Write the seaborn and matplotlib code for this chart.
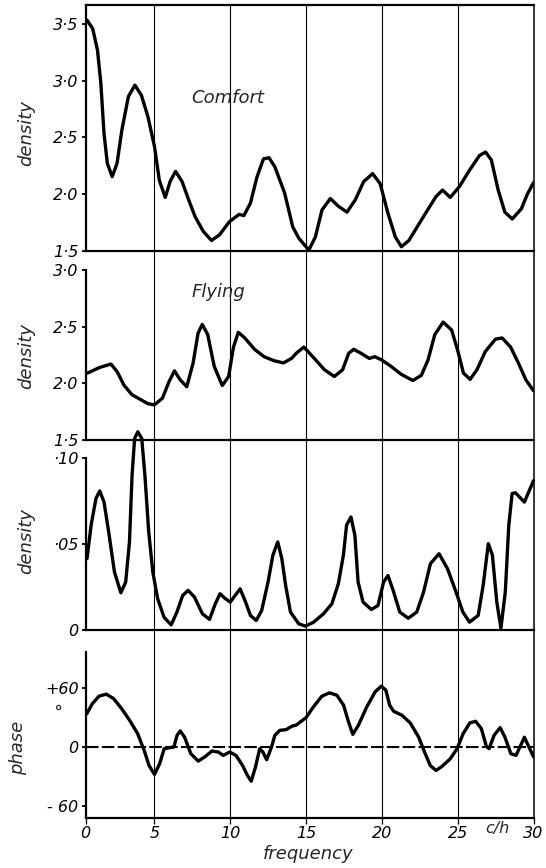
import matplotlib
matplotlib.use("Agg")
import matplotlib.pyplot as plt
import seaborn as sns
import pandas as pd

# ---------------- data ----------------
comfort_x = [0.54, 0.92, 1.24, 1.46, 1.67, 1.89, 2.21, 2.53, 2.85, 3.28, 3.71, 4.14, 4.57, 5.0, 5.32,
             5.71, 6.03, 6.39, 6.82, 7.25, 7.68, 8.22, 8.76, 9.29, 9.94, 10.58, 10.9, 11.33, 11.76,
             12.19, 12.55, 12.94, 13.58, 14.12, 14.52, 15.18, 15.61, 16.05, 16.6, 17.15, 17.7, 18.25,
             18.8, 19.39, 19.89, 20.4, 20.89, 21.29, 21.78, 22.67, 23.56, 24.0, 24.51, 25.11, 25.78,
             26.44, 26.84, 27.22, 27.67, 28.11, 28.6, 29.2, 29.6, 30.0]
comfort_y = [3.535, 3.46, 3.27, 2.98, 2.535, 2.27, 2.153, 2.27, 2.565, 2.86, 2.96, 2.87, 2.68, 2.42, 2.12,
             1.97, 2.11, 2.20, 2.11, 1.95, 1.80, 1.67, 1.59, 1.64, 1.756, 1.82, 1.81, 1.92, 2.15,
             2.31, 2.32, 2.24, 2.01, 1.71, 1.61, 1.506, 1.62, 1.86, 1.96, 1.89, 1.84, 1.95,
             2.11, 2.18, 2.09, 1.83, 1.62, 1.535, 1.59, 1.785, 1.976, 2.035, 1.97, 2.065, 2.21,
             2.34, 2.37, 2.30, 2.035, 1.84, 1.78, 1.87, 2.0, 2.1]

flying_x = [0.55, 0.74, 1.38, 2.13, 2.55, 2.98, 3.51, 4.04, 4.57, 5.0, 5.53, 5.96, 6.32, 6.70, 7.13,
            7.55, 7.87, 8.15, 8.51, 8.94, 9.47, 9.89, 10.21, 10.53, 10.96, 11.6, 12.23, 12.87, 13.51,
            14.04, 14.35, 14.85, 15.44, 16.21, 16.86, 17.41, 17.81, 18.14, 18.62, 19.17, 19.54, 20.0,
            20.6, 21.27, 22.04, 22.6, 23.04, 23.49, 24.04, 24.6, 25.0, 25.38, 25.82, 26.27, 26.82,
            27.49, 27.93, 28.49, 29.0, 29.5, 30.0]
flying_y = [2.09, 2.10, 2.14, 2.17, 2.10, 1.985, 1.90, 1.86, 1.82, 1.81, 1.87, 2.015, 2.11, 2.03, 1.97,
            2.18, 2.44, 2.52, 2.43, 2.15, 1.98, 2.06, 2.32, 2.45, 2.40, 2.30, 2.235, 2.20, 2.18,
            2.22, 2.265, 2.32, 2.235, 2.12, 2.06, 2.12, 2.265, 2.30, 2.265, 2.22, 2.235, 2.205,
            2.15, 2.08, 2.025, 2.07, 2.205, 2.43, 2.54, 2.47, 2.29, 2.09, 2.035, 2.12, 2.28,
            2.39, 2.40, 2.32, 2.18, 2.03, 1.935]

cross_x = [0.55, 0.82, 1.14, 1.39, 1.67, 1.98, 2.36, 2.78, 3.1, 3.35, 3.52, 3.69, 3.90, 4.16, 4.37,
           4.62, 4.89, 5.21, 5.63, 6.10, 6.48, 6.86, 7.22, 7.64, 8.16, 8.63, 9.01, 9.32, 9.68, 10.0,
           10.32, 10.65, 11.01, 11.33, 11.71, 12.07, 12.49, 12.81, 13.13, 13.4, 13.65, 13.97, 14.52,
           14.96, 15.5, 16.15, 16.7, 17.13, 17.46, 17.67, 17.96, 18.22, 18.43, 18.76, 19.3, 19.74,
           20.11, 20.40, 20.74, 21.18, 21.74, 22.3, 22.75, 23.2, 23.77, 24.33, 24.89, 25.34, 25.78,
           26.35, 26.68, 27.02, 27.29, 27.58, 27.85, 28.14, 28.37, 28.59, 28.8, 29.4, 30.0]
cross_y = [0.0414, 0.061, 0.0766, 0.081, 0.0746, 0.057, 0.0336, 0.0215, 0.0277, 0.0512, 0.090, 0.1117,
           0.1156, 0.1117, 0.090, 0.057, 0.0336, 0.018, 0.0072, 0.0027, 0.0102, 0.0199, 0.0229, 0.0189,
           0.0092, 0.0059, 0.015, 0.0209, 0.018, 0.016, 0.0199, 0.0238, 0.016, 0.0082, 0.0053, 0.0111,
           0.0277, 0.0434, 0.0512, 0.0414, 0.0258, 0.0102, 0.0033, 0.002, 0.0043, 0.0092, 0.015,
           0.0268, 0.0434, 0.061, 0.0658, 0.055, 0.0277, 0.016, 0.0117, 0.014, 0.0277, 0.0316, 0.0229,
           0.0102, 0.0066, 0.0102, 0.0219, 0.0385, 0.0443, 0.0355, 0.0219, 0.0102, 0.0043, 0.0082,
           0.0258, 0.0502, 0.0434, 0.016, 0.0008, 0.0219, 0.061, 0.0795, 0.080, 0.0745, 0.087]

phase_x = [0.53, 0.91, 1.34, 1.81, 2.30, 2.83, 3.36, 3.89, 4.32, 4.64, 5.0, 5.34, 5.64, 5.98, 6.28,
           6.49, 6.70, 6.98, 7.40, 7.89, 8.36, 8.79, 9.21, 9.53, 9.96, 10.38, 10.81, 11.13, 11.38,
           11.66, 11.94, 12.15, 12.40, 12.72, 12.94, 13.26, 13.68, 14.06, 14.35, 15.0, 15.48, 16.04,
           16.54, 17.03, 17.47, 17.8, 18.08, 18.45, 19.0, 19.56, 19.96, 20.26, 20.51, 20.77, 21.32,
           21.87, 22.42, 22.86, 23.19, 23.57, 23.96, 24.51, 24.96, 25.36, 25.8, 26.18, 26.56, 26.89,
           27.07, 27.4, 27.8, 28.11, 28.51, 28.85, 29.4, 30.0]
phase_y = [34, 44.6, 52.1, 54.2, 49.7, 39.4, 27.4, 13.7, -3.4, -18.9, -28.1, -17.1, -1.7, -0.7, 0,
           12, 16.5, 10.3, -6.9, -14.4, -9.6, -4.1, -5.1, -8.6, -5.1, -8.6, -18.9, -29.1, -35,
           -20.6, -1.7, -5.1, -13, 0, 12, 17.1, 17.8, 21.3, 22.5, 30.2, 41.1, 52.1,
           55.5, 53.1, 42.9, 25.7, 13, 22.3, 41.1, 56.6, 62.4, 58.3, 42.9, 36.7, 32.6,
           24.7, 10.3, -6.9, -18.9, -24, -19.9, -12, -1.7, 13.7, 24.7, 26.4, 18.9, 0.7,
           -1.7, 12, 19.9, 10.3, -6.9, -8.5, 10, -10]

freq_ticks = [0, 5, 10, 15, 20, 25, 30]
freq_labels = ["0", "5", "10", "15", "20", "25", "30"]
comfort_ticks = [1.5, 2.0, 2.5, 3.0, 3.5]
comfort_labels = ["1·5", "2·0", "2·5", "3·0", "3·5"]
flying_ticks = [1.5, 2.0, 2.5, 3.0]
flying_labels = ["1·5", "2·0", "2·5", "3·0"]
cross_ticks = [0, 0.05, 0.10]
cross_labels = ["0", "·05", "·10"]
phase_ticks = [-60, 0, 60]
phase_labels = ["- 60", "0", "+60"]

# ---------------- styling ----------------
sns.set_theme(style="ticks")
plt.rcParams["font.family"] = ["DejaVu Sans"]
plt.rcParams["font.style"] = "italic"
plt.rcParams["axes.edgecolor"] = "black"

W, H = 546, 868
fig = plt.figure(figsize=(W / 100, H / 100), dpi=100)
fig.patch.set_facecolor("white")

LEFT, RIGHT = 85.5, 533.5
XMIN, XMAX = 0.45, 30.0
TICK_FS = 11.5
LBL_FS = 13


def make_ax(top, bottom, ylim):
    ax = fig.add_axes([LEFT / W, 1 - bottom / H, (RIGHT - LEFT) / W, (bottom - top) / H])
    ax.set_xlim(XMIN, XMAX)
    ax.set_ylim(*ylim)
    ax.set_facecolor("none")
    for xv in freq_ticks[1:-1]:
        ax.axvline(xv, color="black", lw=0.8, zorder=0)
    for s in ax.spines.values():
        s.set_color("black")
        s.set_linewidth(1.6)
    ax.spines["right"].set_linewidth(1.1)
    ax.tick_params(axis="y", direction="out", length=3, width=1.3, pad=2,
                   labelsize=TICK_FS, colors="black")
    ax.tick_params(axis="x", bottom=False, labelbottom=False)
    return ax


def draw(ax, xs, ys, clip=True):
    df = pd.DataFrame({"freq": xs, "val": ys})
    sns.lineplot(data=df, x="freq", y="val", ax=ax, color="black", lw=2.4,
                 estimator=None, sort=False, clip_on=clip, zorder=5)
    ax.set_xlabel("")
    ax.set_ylabel("")


# Panel 1: Comfort
ax1 = make_ax(5, 250.7, (1.5, 3.667))
draw(ax1, comfort_x, comfort_y)
ax1.set_yticks(comfort_ticks)
ax1.set_yticklabels(comfort_labels)
ax1.text(0.317, 0.62, "Comfort", transform=ax1.transAxes, fontsize=LBL_FS,
         ha="center", va="center")

# Panel 2: Flying
ax2 = make_ax(250.7, 440, (1.5, 3.17))
draw(ax2, flying_x, flying_y)
ax2.spines["top"].set_visible(False)
ax2.spines["left"].set_bounds(1.5, 3.0)
ax2.set_yticks(flying_ticks)
ax2.set_yticklabels(flying_labels)
ax2.text(0.296, 0.78, "Flying", transform=ax2.transAxes, fontsize=LBL_FS,
         ha="center", va="center")

# Panel 3: cross density
ax3 = make_ax(440, 629.5, (0, 0.1108))
draw(ax3, cross_x, cross_y, clip=False)
ax3.spines["top"].set_visible(False)
ax3.spines["left"].set_bounds(0, 0.10)
ax3.set_yticks(cross_ticks)
ax3.set_yticklabels(cross_labels)

# Panel 4: phase
ax4 = make_ax(629.5, 818.3, (-73.0, 120.4))
draw(ax4, phase_x, phase_y)
ax4.axhline(0, color="black", lw=1.5, ls=(0, (6, 1.6)), zorder=2)
ax4.spines["top"].set_visible(False)
ax4.spines["left"].set_bounds(-73.0, 97)
ax4.set_yticks(phase_ticks)
ax4.set_yticklabels(phase_labels)
xt = [XMIN] + freq_ticks[1:]
ax4.set_xticks(xt)
ax4.set_xticklabels(freq_labels)
ax4.tick_params(axis="x", bottom=True, labelbottom=True, direction="out", length=4,
                width=0.9, pad=1.5, labelsize=TICK_FS, colors="black")

# figure-level texts
fig.text(497 / W, 1 - 829 / H, "c/h", fontsize=TICK_FS, ha="center", va="center")
fig.text(308 / W, 1 - 854 / H, "frequency", fontsize=LBL_FS, ha="center", va="center")
for yc in (133, 356, 541):
    fig.text(26 / W, 1 - yc / H, "density", fontsize=LBL_FS, rotation=90,
             ha="center", va="center")
fig.text(18 / W, 1 - 748 / H, "phase", fontsize=LBL_FS, rotation=90, ha="center", va="center")
fig.text(63 / W, 1 - 706 / H, "°", fontsize=LBL_FS, rotation=90, ha="center", va="center")

fig.savefig("out.png", dpi=100, facecolor="white")
